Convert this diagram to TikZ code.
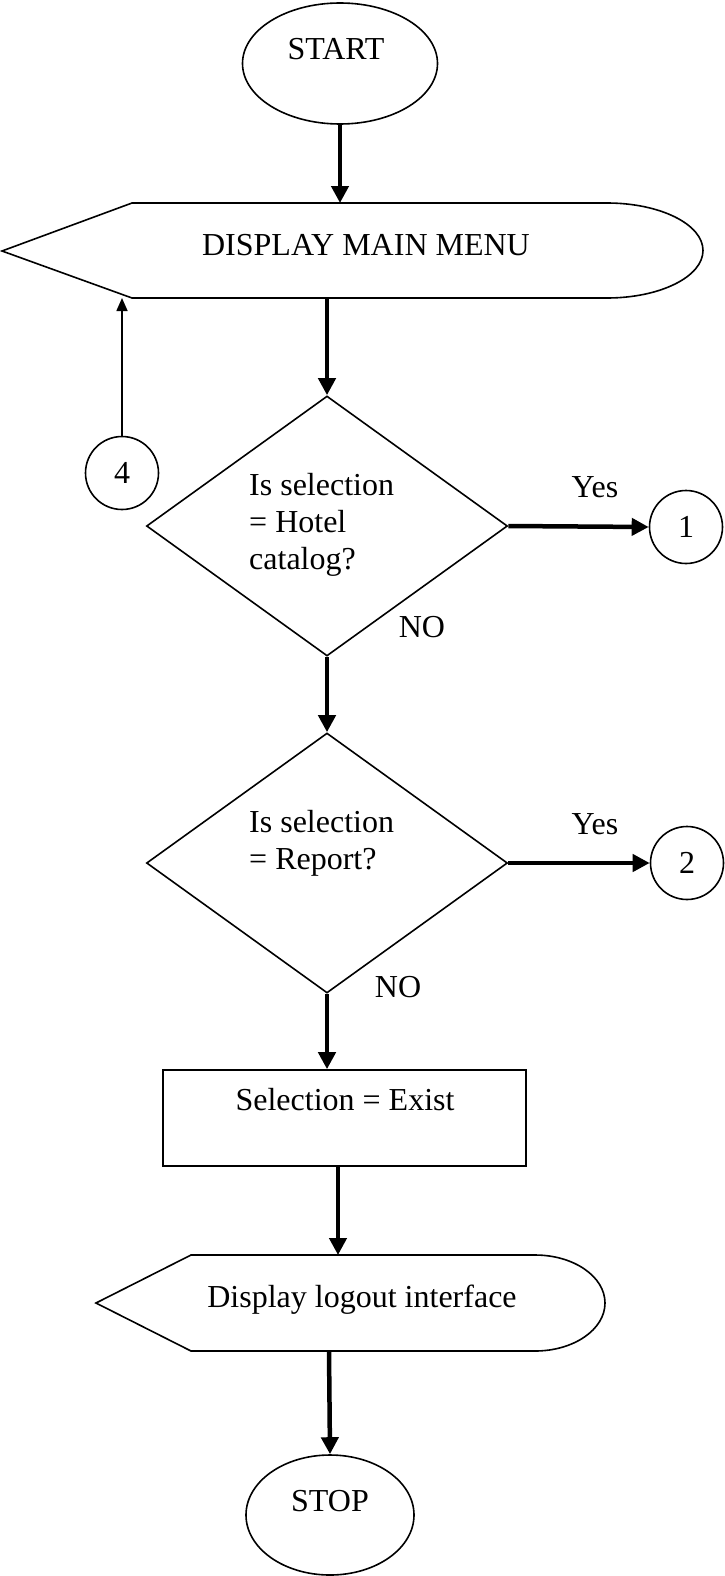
\documentclass[tikz,border=0pt]{standalone}
\usepackage{fontspec}
\setmainfont{Liberation Serif}
\usetikzlibrary{shapes.geometric,arrows.meta}
\newcommand\diagfont{\fontsize{32}{37}\selectfont}
\begin{document}
\begin{tikzpicture}[x=1pt,y=-1pt,
  outline/.style={draw=black, line width=1.6pt},
  flow/.style={line width=4.5pt, -{Triangle[length=17pt,width=17pt]}},
  thinflow/.style={line width=1.6pt, -{Triangle[length=13pt,width=11pt]}},
  terminal/.style={outline, ellipse, inner sep=0pt},
  decision/.style={outline, diamond, inner sep=0pt, minimum width=361pt, minimum height=260pt},
  connector/.style={outline, circle, inner sep=0pt, minimum size=73pt, font=\diagfont},
  process/.style={outline, rectangle, inner sep=0pt, minimum width=363pt, minimum height=96pt},
  txt/.style={inner sep=0pt, font=\diagfont},
]
\useasboundingbox (0,0) rectangle (725,1576);

% START terminal
\node[terminal, minimum width=195pt, minimum height=121pt] (start) at (340,63.5) {};
\node[txt, anchor=base] (starttxt) at (336,60) {START};

% DISPLAY MAIN MENU display symbol
\draw[outline] (2,251) -- (132,203) -- (607,203)
  arc[start angle=-90, end angle=90, x radius=96, y radius=47.5]
  -- (132,298) -- cycle;
\coordinate (menuT) at (340,203);
\coordinate (menuB) at (327,298);
\node[txt, anchor=base] (menu) at (366,255) {DISPLAY MAIN MENU};

% first decision
\node[decision] (d1) at (327,526) {};
\node[txt, anchor=north west, align=left] (d1txt) at (249,473) {Is selection\\= Hotel\\catalog?};
\node[connector] (c1) at (686,527) {1};
\node[txt, anchor=base] (yes1) at (595,497) {Yes};
\node[txt, anchor=base] (no1) at (422,637) {NO};

% return connector
\node[connector] (c4) at (122,473) {4};

% second decision
\node[decision] (d2) at (327,863) {};
\node[txt, anchor=north west, align=left] (d2txt) at (249,810) {Is selection\\= Report?};
\node[connector] (c2) at (687,863) {2};
\node[txt, anchor=base] (yes2) at (595,834) {Yes};
\node[txt, anchor=base] (no2) at (398,997) {NO};

% process box
\node[process] (exitbox) at (344.5,1118) {};
\node[txt, anchor=base] (exittxt) at (345,1110) {Selection = Exist};

% logout display symbol
\draw[outline] (96,1303) -- (191,1255) -- (535,1255)
  arc[start angle=-90, end angle=90, x radius=70, y radius=48]
  -- (191,1351) -- cycle;
\coordinate (logoutT) at (338,1255);
\coordinate (logoutB) at (329,1351);
\node[txt, anchor=base] (logout) at (362,1307) {Display logout interface};

% STOP terminal
\node[terminal, minimum width=168pt, minimum height=120pt] (stop) at (330,1515) {};
\node[txt, anchor=base] (stoptxt) at (330,1511) {STOP};

% connectors
\draw[flow] (start.south) -- (start.south |- menuT);
\draw[flow] (menuB) -- (d1.north);
\draw[thinflow] (c4.north) -- (c4.north |- menuB);
\draw[flow] (d1.east) -- (c1.west);
\draw[flow] (d1.south) -- (d2.north);
\draw[flow] (d2.east) -- (c2.west);
\draw[flow] (d2.south) -- (d2.south |- exitbox.north);
\draw[flow] (exitbox.south -| logoutT) -- (logoutT);
\draw[flow] (logoutB) -- (stop.north);
\end{tikzpicture}
\end{document}
